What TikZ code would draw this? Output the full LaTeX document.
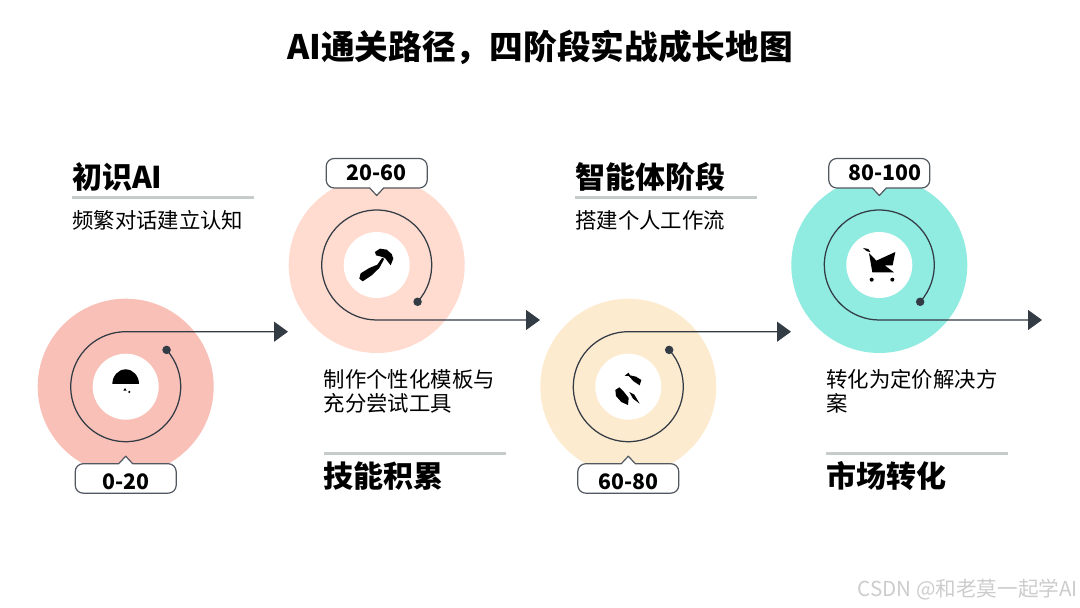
\documentclass[tikz,border=0pt]{standalone}
\usepackage{fontspec}
\setmainfont{Noto Sans CJK SC}
\usetikzlibrary{arrows.meta}
\definecolor{discA}{HTML}{F9C0B8}
\definecolor{discB}{HTML}{FFDCCF}
\definecolor{discC}{HTML}{FDEBD0}
\definecolor{discD}{HTML}{90EBE1}
\definecolor{inkline}{HTML}{333B45}
\definecolor{ruleline}{HTML}{C6CCCA}
\tikzset{
	disc/.style={circle,minimum size=176pt,inner sep=0pt},
	hole/.style={circle,minimum size=66pt,inner sep=0pt,fill=white},
	dotmark/.style={circle,minimum size=8.5pt,inner sep=0pt,fill=inkline},
	spiral/.style={draw=inkline,line width=1.25pt,-{Triangle[length=14pt,width=20pt]}},
	tagbox/.style={draw=inkline!85,line width=1.2pt,fill=white},
	tagtext/.style={font=\fontsize{21.3}{26}\selectfont\bfseries},
	headtext/.style={anchor=west,inner sep=0pt,font=\fontsize{30}{35}\selectfont\bfseries},
	bodytext/.style={anchor=west,inner sep=0pt,align=left,font=\fontsize{21.4}{24}\selectfont},
	rulemark/.style={draw=ruleline,line width=3pt},
	iconpart/.style={fill=black},
	iconscope/.style={x=0.3333pt,y=-0.3333pt}
}
\begin{document}
\begin{tikzpicture}[x=1pt,y=1pt,line join=round]
	\useasboundingbox (0,0) rectangle (1080,608);
	\node[inner sep=0pt,font=\fontsize{33.7}{40}\selectfont\bfseries] (title) at (540,561) {AI通关路径，四阶段实战成长地图};
	% rings
	\foreach \i/\cx/\cy/\sg/\c/\tipx/\dx/\dy/\t in {1/125.7/221.3/1/discA/288/0/3/0-20,2/376.7/343/-1/discB/540/0/0/20-60,3/628.3/221.3/1/discC/791/0/3/60-80,4/879.3/343/-1/discD/1042/6/0/80-100}{
		\node[disc,fill=\c] (disc\i) at (\cx,\cy) {};
		\node[hole] (hole\i) at (\cx,\cy) {};
		\node[dotmark] (dot\i) at ([shift={(\sg*42:55)}]\cx,\cy) {};
		\coordinate (tip\i) at (\tipx,\cy+\sg*55);
		\draw[spiral] (dot\i.center) arc[start angle=\sg*42,delta angle=-\sg*312,radius=55] -- (tip\i);
		\draw[tagbox,rounded corners=8pt] (\cx-50.5,\cy-\sg*77)--(\cx-50.5,\cy-\sg*106.5)--(\cx+50.5,\cy-\sg*106.5)--(\cx+50.5,\cy-\sg*77)[sharp corners]--(\cx+7,\cy-\sg*77)--(\cx,\cy-\sg*69.5)--(\cx-7,\cy-\sg*77)[rounded corners=8pt]--cycle;
		\node[tagtext] (tag\i) at (\cx+\dx,\cy-\sg*92-\dy) {\t};
	}
	% texts
	\foreach \i/\x/\yh/\yr/\yb/\h/\b in {1/72/431/410/388/初识AI/频繁对话建立认知,2/323.5/132/154/217/技能积累/{制作个性化模板与\\充分尝试工具},3/575/431/410/388/智能体阶段/搭建个人工作流,4/826/132/154/217/市场转化/{转化为定价解决方\\案}}{
		\node[headtext] (head\i) at (\x,\yh) {\h};
		\draw[rulemark] (\x,\yr)--(\x+182,\yr);
		\node[bodytext] (body\i) at (\x,\yb) {\b};
	}
	% icons
	\begin{scope}[shift={(100,248)},iconscope]
		\fill[iconpart] (37,72) arc[start angle=180,end angle=360,x radius=40,y radius=44]--cycle;
		\fill[iconpart] (75,84)--(80,92)--(70,92)--cycle;
		\fill[iconpart] (88,96) circle[radius=3.5];
	\end{scope}
	\begin{scope}[shift={(350,370)},iconscope]
		\fill[iconpart] (75,42)--(90,32)--(110,35)--(125,48)--(130,62)--(122,82)--(105,60)--(90,55)--(78,52)--cycle;
		\fill[iconpart] (103,62)--(88,90)--(65,112)--(38,130)--(28,122)--(32,106)--(58,90)--(82,80)--(96,60)--cycle;
	\end{scope}
	\begin{scope}[shift={(602,248)},iconscope]
		\fill[iconpart] (68,47)--(80,38)--(84,46)--(102,50)--(118,60)--(113,76)--(95,64)--(80,48)--cycle;
		\fill[iconpart] (40,90)--(52,82)--(66,96)--(80,114)--(78,135)--(58,126)--(42,108)--cycle;
		\fill[iconpart] (82,96)--(97,104)--(113,131)--(93,116)--cycle;
	\end{scope}
	\begin{scope}[shift={(853,370)},iconscope]
		\fill[iconpart] (30,30)--(46,33)--(52,42)--(42,40)--cycle;
		\fill[iconpart] (48,45)--(70,68)--(127,42)--(119,82)--(95,82)--(123,103)--(58,103)--cycle;
		\fill[iconpart] (56,125) circle[radius=6];
		\fill[iconpart] (118,125) circle[radius=6];
	\end{scope}
	\node[inner sep=0pt,anchor=east,text=black!20,font=\fontsize{20.6}{24}\selectfont] (mark) at (1078,18) {CSDN @和老莫一起学AI};
\end{tikzpicture}
\end{document}
